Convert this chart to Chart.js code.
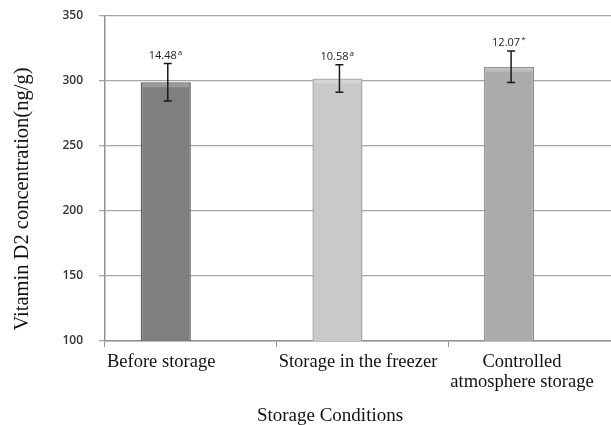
<!DOCTYPE html>
<html>
<head>
<meta charset="utf-8">
<script src="https://cdn.jsdelivr.net/npm/chart.js@4/dist/chart.umd.min.js"></script>
<style>
  html, body { margin: 0; padding: 0; background: #fff; overflow: hidden; }
  #wrap { position: relative; width: 620px; height: 425px; }
</style>
</head>
<body>
<div id="wrap"><canvas id="c"></canvas></div>
<script>
// ---- data ----
const categories = ["Before storage", "Storage in the freezer", ["Controlled", "atmosphere storage"]];
const means = [299, 302, 311];
const errors = [14.48, 10.58, 12.07];
const errorLabels = ["14.48", "10.58", "12.07"];
const errorMarks = ["a", "a", "*"];
const yTicks = [100, 150, 200, 250, 300, 350];
const emptySeries = [null, null, null];
const yTitle = "Vitamin D2 concentration(ng/g)";
const xTitle = "Storage Conditions";

const fills = ["#7f7f7f", "#c9c9c9", "#ababab"];
const edges = ["#5f5f5f", "#a9a9a9", "#8c8c8c"];

const overlay = {
  id: "overlay",
  afterDatasetsDraw(chart) {
    const ctx = chart.ctx;
    const y = chart.scales.y;
    const x = chart.scales.x;
    const meta = chart.getDatasetMeta(0);
    ctx.save();
    // bevel highlight on top of bars
    meta.data.forEach((bar, i) => {
      const w = bar.width;
      const left = bar.x - w / 2;
      ctx.fillStyle = "rgba(255,255,255,0.22)";
      ctx.fillRect(left + 2, bar.y + 1, w - 4, 4);
    });
    // error bars
    ctx.strokeStyle = "#1a1a1a";
    ctx.lineWidth = 1.5;
    meta.data.forEach((bar, i) => {
      const cx = bar.x + 2;
      const top = y.getPixelForValue(means[i] + errors[i]);
      const bot = y.getPixelForValue(means[i] - errors[i]);
      ctx.beginPath();
      ctx.moveTo(cx, top); ctx.lineTo(cx, bot);
      ctx.moveTo(cx - 4, top); ctx.lineTo(cx + 4, top);
      ctx.moveTo(cx - 4, bot); ctx.lineTo(cx + 4, bot);
      ctx.stroke();
      // label
      ctx.fillStyle = "#222";
      ctx.font = "11px 'Open Sans', sans-serif";
      ctx.textAlign = "center";
      ctx.textBaseline = "middle";
      const tx = bar.x - 3;
      const ty = top - 8;
      ctx.fillText(errorLabels[i], tx, ty);
      const tw = ctx.measureText(errorLabels[i]).width;
      ctx.font = "8px 'Open Sans', sans-serif";
      ctx.textAlign = "left";
      ctx.fillText(errorMarks[i], tx + tw / 2 + 1, ty - 3);
    });
    // category labels, left aligned at category start, lines centered in block
    ctx.fillStyle = "#111";
    ctx.font = "18.5px 'Liberation Serif', serif";
    ctx.textBaseline = "middle";
    const catW = (x.right - x.left) / categories.length;
    categories.forEach((lab, i) => {
      const lines = Array.isArray(lab) ? lab : [lab];
      const start = x.getPixelForValue(i) - catW / 2;
      const bw = Math.max(...lines.map(l => ctx.measureText(l).width));
      ctx.textAlign = "center";
      lines.forEach((l, j) => {
        ctx.fillText(l, start + 2 + bw / 2, x.top + 21 + j * 20);
      });
    });
    // axis titles
    ctx.font = "19px 'Liberation Serif', serif";
    ctx.textAlign = "center";
    ctx.fillText(xTitle, 330, 416);
    ctx.translate(23, 199);
    ctx.rotate(-Math.PI / 2);
    ctx.font = "20.5px 'Liberation Serif', serif";
    ctx.fillText(yTitle, 0, 0);
    ctx.restore();
  }
};

new Chart(document.getElementById("c"), {
  type: "bar",
  data: {
    labels: categories,
    datasets: [
      { data: means, backgroundColor: fills, borderColor: edges, borderWidth: 1.5,
        categoryPercentage: 0.584, barPercentage: 1.0 },
      { data: emptySeries, backgroundColor: "transparent",
        categoryPercentage: 0.584, barPercentage: 1.0 }
    ]
  },
  options: {
    responsive: true,
    maintainAspectRatio: false,
    animation: false,
    layout: { padding: { top: 16, right: 0, left: 0, bottom: 0 } },
    plugins: { legend: { display: false }, tooltip: { enabled: false } },
    scales: {
      x: {
        grid: { drawOnChartArea: false, color: "#909090", tickLength: 6, offset: true },
        border: { color: "#909090", width: 1.5 },
        ticks: { display: false },
        afterFit(s) { s.height = 84; s.paddingLeft = 0; s.paddingRight = 0; }
      },
      y: {
        min: 100, max: 350,
        afterBuildTicks(s) { s.ticks = yTicks.map(v => ({ value: v })); },
        grid: { color: "#a6a6a6", lineWidth: 1.3, tickLength: 6 },
        border: { color: "#909090", width: 1.5 },
        ticks: { color: "#333", font: { family: "'Open Sans', sans-serif", size: 12, weight: "600" }, padding: 16 },
        afterFit(s) { s.width = 105; s.paddingTop = 0; s.paddingBottom = 0; }
      }
    }
  },
  plugins: [overlay]
});
</script>
</body>
</html>
